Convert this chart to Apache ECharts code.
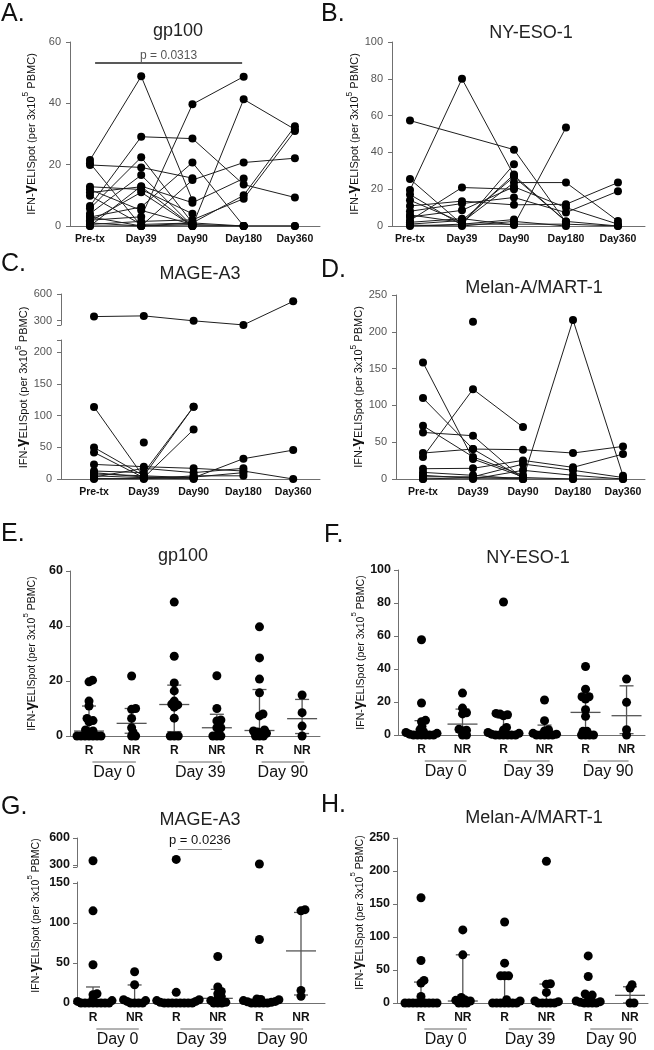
<!DOCTYPE html>
<html><head><meta charset="utf-8">
<script src="https://cdn.jsdelivr.net/npm/echarts@6/dist/echarts.min.js"></script>
<style>html,body{margin:0;padding:0;background:#fff}#c{width:654px;height:1050px}</style>
</head><body><div id="c"></div>
<script>
// ---------------- DATA ----------------
const timepoints = ['Pre-tx', 'Day39', 'Day90', 'Day180', 'Day360'];
const groupCats = ['R', 'NR', 'R', 'NR', 'R', 'NR'];
const dayLabels = ['Day 0', 'Day 39', 'Day 90'];

// A. gp100 per-patient trajectories (Pre-tx, Day39, Day90, Day180, Day360)
const gp100Lines = [
  [21.5, 48.8, 8.4, null, null],
  [19.9, 19.1, 15.6, null, null],
  [20.5, 0, 0.5, null, null],
  [12.8, 11.9, 4, null, null],
  [11.9, 5.1, 0.5, 0, 0],
  [10.9, 12.8, 0, null, null],
  [9.9, 0.5, 1, null, null],
  [6.5, 29.1, 28.5, 13.5, 9.3],
  [5.7, 22.4, 1, 10, 32.5],
  [4, 16.6, 0, 41.3, 31.5],
  [2.9, 6.2, 20.7, 0, null],
  [1.9, 3, 39.7, 48.7, null],
  [1, 0, 15, 20.7, 22.1],
  [0.5, 1.5, 2, 8.9, 31],
  [0, 13, 7.6, 15.5, null],
  [0, 0, 0, 0, 0],
  [1.5, 11, 0, 0, null],
  [3, 0, 1, 0, null]
];
// B. NY-ESO-1
const nyeso1Lines = [
  [57.3, null, 41.5, 2, null],
  [19.5, 80, 27.5, 2.5, null],
  [25.5, 1, 3.5, null, null],
  [17.1, 0.5, 33.6, null, null],
  [14, 2, 23.6, 23.6, 2.7],
  [10.9, 13.5, 11.5, 11.8, 23.6],
  [8, 12.2, 15.5, 7.3, 18.9],
  [4.9, 8.5, 21.3, 10, 1],
  [3, 20.9, 20, null, null],
  [2, 4, 0.5, 53.5, null],
  [1, 3, 26.7, 2.5, 0],
  [0, 1, 1, 1, 0],
  [0.5, 0, 2.5, 0, null],
  [6, 2, 28, null, null]
];
// C. MAGE-A3 (lower segment) and the one high responder (upper segment)
const mageLines = [
  [113.6, 3, 1, null, null],
  [49.7, 5, 2, null, null],
  [41.9, 2, 0, null, null],
  [23, 19.4, 16.8, 12.6, 0],
  [12.6, 10, 114, null, null],
  [7.9, 5, 114, null, null],
  [5, 2, 78, null, null],
  [3, 16.8, 10, 16.8, null],
  [0, 1, 2, 32, 45.5],
  [null, 57.6, null, null, null],
  [1, 0, 5, 5, null],
  [10, 3, 3, 10, null]
];
const mageHighLine = [345, 353, 297, 251, 517];
// D. Melan-A/MART-1
const melanLines = [
  [158.2, 27.1, 3, null, null],
  [109.9, 40.7, 1, null, null],
  [72.3, 30, 5, null, null],
  [63.3, 58.8, 0, null, null],
  [30, 122, 70.5, null, null],
  [35.3, 40.7, 39.8, 35.3, 44.3],
  [null, 213.8, null, null, null],
  [14, 14.5, 25.3, 15.8, 33.9],
  [9, 5, 0, 216, 4.5],
  [3, 3, 20.3, 11.8, 2],
  [0, 0, 11.8, 5, 0],
  [5, 1, 2, 0, null],
  [0, 2, 0, 0, 0]
];

// E-H: groups in order Day0 R, Day0 NR, Day39 R, Day39 NR, Day90 R, Day90 NR
const gp100Groups = [
  [20.3, 19.7, 12.7, 10.9, 6.4, 5.6, 5.2, 2.2, 1.8, 1.5, 0, 0, 0, 0, 0, 0, 0],
  [21.8, 10, 9.7, 6.4, 3, 1.3, 0, 0],
  [48.7, 29, 19.3, 16.4, 12.7, 11.6, 11.3, 10.5, 6.5, 0, 0, 0],
  [21.9, 10, 5.8, 5.5, 3, 3, 1.2, 0, 0, 0],
  [39.7, 28.4, 20.7, 15.7, 8, 7.3, 2.2, 1.8, 1.5, 1.2, 1, 0, 0, 0],
  [14.9, 8.5, 3.6, 0]
];
const gp100Median = [1.8, 4.6, 11.45, 3, 2, 6.3];
const gp100Q1 = [0, 1, 1.6, 0, 0.5, 0.9];
const gp100Q3 = [10.9, 10, 18.5, 7.9, 16.9, 13.3];

const nyesoGroups = [
  [57.7, 19.4, 8.9, 8.1, 5.2, 3.2, 2, 1.5, 1, 0.5, 0, 0, 0, 0, 0, 0],
  [25.4, 16.3, 13.5, 12.8, 3.5, 2.9, 2.6, 0, 0],
  [80.6, 13.1, 12.7, 12.3, 11.7, 4.6, 3, 1.5, 1, 0.5, 0, 0, 0, 0, 0, 0],
  [21.2, 8.7, 3.2, 2.4, 1, 0.5, 0, 0, 0, 0, 0],
  [41.5, 27.8, 23.2, 23.2, 21.8, 15.3, 11.3, 2.2, 2.2, 0, 0, 0, 0],
  [33.9, 19.8, 3.2, 0]
];
const nyesoMedian = [1.6, 6.6, 1.6, 0.6, 13.7, 11.7];
const nyesoQ1 = [0, 1.6, 0, 0, 1.2, 0.8];
const nyesoQ3 = [8.7, 15.7, 10.3, 6, 24.8, 29.8];

const mageGroups = [
  [347, 115, 47.7, 11.6, 10.4, 5, 3, 2, 0, 0, 0, 0, 0, 0, 0, 0],
  [39, 22.8, 4, 3, 2, 0, 0, 0, 0],
  [362, 13.3, 4, 3, 2, 1, 0, 0, 0, 0, 0, 0, 0, 0],
  [58, 19.9, 14.5, 11.6, 8, 5.8, 3, 1, 0, 0, 0],
  [311, 79.2, 5, 4.5, 4, 3, 2, 1.5, 1, 0, 0, 0, 0, 0],
  [116.5, 115, 15.7, 8.3]
];
const mageMedian = [0.5, 2.5, 1, 5.8, 1, 65];
const mageQ1 = [0, 0, 0, 0, 0, 10];
const mageQ3 = [20, 22.5, 3, 17, 3, 113];

const melanGroups = [
  [159.5, 64.4, 34.2, 30.2, 10, 0, 0, 0, 0, 0, 0, 0, 0, 0],
  [110.7, 73, 8.5, 5, 4, 3, 0, 0, 0],
  [122.7, 60.4, 41.2, 41.2, 41.2, 5, 3, 0, 0, 0, 0, 0, 0, 0],
  [214.8, 29.2, 28.5, 16, 3, 2, 0, 0, 0, 0, 0],
  [71.4, 40.2, 13.6, 12, 10, 5, 3, 2, 1, 0, 0, 0, 0],
  [27.7, 22.6, 0, 0]
];
const melanMedian = [0, 3, 0.5, 3, 2, 11.6];
const melanQ1 = [0, 0, 0, 0, 0, 0];
const melanQ3 = [31.7, 73, 36.2, 28.7, 13.6, 24.6];

const pValueA = 'p = 0.0313';
const pValueG = 'p = 0.0236';

// ---------------- LAYOUT ----------------
const FONT = '"Liberation Sans", Arial, Helvetica, sans-serif';
const layout = [
  {left: 70,  top: 42,  width: 250, height: 184, x: [-0.39, 4.49],   y: [0, 60],   yint: 20, kind: 'time'},   // 0 A
  {left: 392, top: 42,  width: 253, height: 184, x: [-0.346, 4.52],  y: [0, 100],  yint: 20, kind: 'time'},   // 1 B
  {left: 61,  top: 294, width: 259, height: 31,  x: [-0.663, 4.538], y: [250, 600], lab: [300, 600], tick: [250, 300, 600], kind: 'up'}, // 2 C up
  {left: 61,  top: 340, width: 259, height: 139, x: [-0.663, 4.538], y: [0, 219],  lab: [0, 50, 100, 150, 200], tick: [0, 50, 100, 150, 200, 219], kind: 'time'}, // 3 C low
  {left: 396, top: 295, width: 249, height: 184, x: [-0.54, 4.44],   y: [0, 250],  yint: 50, kind: 'time'},   // 4 D
  {left: 70,  top: 571, width: 250, height: 165, x: [-0.446, 5.42],  y: [0, 60],   yint: 20, kind: 'grp'},    // 5 E
  {left: 398, top: 570, width: 247, height: 165, x: [-0.573, 5.45],  y: [0, 100],  yint: 20, kind: 'grp'},    // 6 F
  {left: 77,  top: 838, width: 248, height: 29,  x: [-0.385, 5.577], y: [278, 600], lab: [300, 600], tick: [278, 300, 600], kind: 'up'}, // 7 G up
  {left: 77,  top: 882, width: 248, height: 121, x: [-0.385, 5.577], y: [0, 151],  lab: [0, 50, 100, 150], tick: [0, 50, 100, 150], kind: 'grp'}, // 8 G low
  {left: 397, top: 838, width: 251, height: 165, x: [-0.574, 5.43],  y: [0, 250],  yint: 50, kind: 'grp'}     // 9 H
];
const axisNames = [
  {grid: 0, gap: 33, size: 11, shift: 0},
  {grid: 1, gap: 27, size: 11, shift: 0},
  {grid: 3, gap: 23, size: 11, shift: 22},
  {grid: 4, gap: 24, size: 11, shift: 0},
  {grid: 5, gap: 32, size: 10.5, shift: 0},
  {grid: 6, gap: 28, size: 10.5, shift: 0},
  {grid: 8, gap: 35, size: 10.5, shift: 27},
  {grid: 9, gap: 29, size: 10.5, shift: 8}
];
// title text tops (px)
const titles = [
  {t: 'gp100', x: 178, y: 22}, {t: 'NY-ESO-1', x: 531, y: 24},
  {t: 'MAGE-A3', x: 200, y: 265}, {t: 'Melan-A/MART-1', x: 534, y: 279},
  {t: 'gp100', x: 183, y: 547}, {t: 'NY-ESO-1', x: 528, y: 549},
  {t: 'MAGE-A3', x: 200, y: 811}, {t: 'Melan-A/MART-1', x: 534, y: 809}
];
const letters = [
  {t: 'A.', x: 1, y: 2}, {t: 'B.', x: 321, y: 2}, {t: 'C.', x: 1, y: 252}, {t: 'D.', x: 321, y: 258},
  {t: 'E.', x: 1, y: 522}, {t: 'F.', x: 324, y: 523}, {t: 'G.', x: 1, y: 795}, {t: 'H.', x: 321, y: 793}
];
const daySpans = [[0.08, 1.1], [2.1, 3.12], [4.05, 5.05]];

// ---------------- BUILD ----------------
const AX = '#707070';
const yName = '{a|IFN-}{g|γ}{a|ELISpot (per 3x10}{s|5}{a| PBMC)}';

const grids = layout.map(L => ({left: L.left, top: L.top, width: L.width, height: L.height, containLabel: false}));
const xAxes = layout.map((L, i) => {
  const cats = L.kind === 'grp' ? groupCats : timepoints;
  return {
    gridIndex: i, type: 'value', min: L.x[0], max: L.x[1], show: L.kind !== 'up',
    axisLine: {show: true, onZero: false, lineStyle: {color: AX, width: 1}},
    axisTick: {show: false}, splitLine: {show: false},
    axisLabel: {
      customValues: cats.map((_, k) => k),
      formatter: v => cats[Math.round(v)],
      color: '#111', fontFamily: FONT, fontWeight: 'bold',
      fontSize: L.kind === 'grp' ? 12 : 10.5, margin: L.kind === 'grp' ? 9 : 8
    }
  };
});
const yAxes = layout.map((L, i) => {
  const grp = L.kind === 'grp' || i === 7;
  const ax = {
    gridIndex: i, type: 'value', min: L.y[0], max: L.y[1],
    axisLine: {show: true, onZero: false, lineStyle: {color: AX, width: 1}},
    axisTick: {show: true, length: 4, lineStyle: {color: AX}},
    splitLine: {show: false},
    axisLabel: {color: grp ? '#111' : '#555', fontFamily: FONT, fontWeight: grp ? 'bold' : 'normal',
      fontSize: grp ? 12.5 : 11, margin: grp ? 7 : 9}
  };
  if (L.yint) ax.interval = L.yint;
  if (L.lab) { ax.axisLabel.customValues = L.lab; ax.axisTick.customValues = L.tick; }
  const nm = axisNames.find(n => n.grid === i);
  if (nm) {
    ax.name = yName; ax.nameLocation = 'middle'; ax.nameGap = nm.gap; ax.nameRotate = 90;
    const s = nm.size;
    ax.nameTextStyle = {
      fontFamily: FONT, color: '#111', padding: [0, 0, 0, nm.shift * 2],
      rich: {
        a: {fontSize: s, fontFamily: FONT, color: '#111', lineHeight: 16, verticalAlign: 'bottom'},
        g: {fontSize: s + 4, fontFamily: FONT, fontWeight: 'bold', color: '#111', lineHeight: 16, verticalAlign: 'bottom'},
        s: {fontSize: s - 2.5, fontFamily: FONT, color: '#111', lineHeight: 16, verticalAlign: 'top'}
      }
    };
  }
  return ax;
});

const series = [];
function addLines(grid, rows, markLine) {
  rows.forEach((row, r) => {
    const data = [];
    row.forEach((v, k) => { if (v !== null) data.push([k, v]); });
    const s = {
      type: 'line', xAxisIndex: grid, yAxisIndex: grid, data,
      symbol: 'circle', symbolSize: 8, showSymbol: true,
      itemStyle: {color: '#000', opacity: 1}, lineStyle: {color: '#1e1e1e', width: 1},
      silent: true, z: 2, animation: false
    };
    if (r === 0 && markLine) s.markLine = markLine;
    series.push(s);
  });
}
addLines(0, gp100Lines, {
  symbol: 'none', silent: true, animation: false,
  lineStyle: {color: '#222', width: 1.5, type: 'solid'},
  label: {show: true, position: 'middle', formatter: pValueA, color: '#555', fontSize: 12, fontFamily: FONT, distance: 1},
  data: [[{coord: [0.1, 53.2]}, {coord: [2.97, 53.2]}]]
});
addLines(1, nyeso1Lines);
addLines(3, mageLines);
addLines(2, [mageHighLine]);
addLines(4, melanLines);

function swarm(vals, ppu) {
  const order = vals.map((v, i) => i).sort((a, b) => vals[a] - vals[b]);
  const placed = []; const out = new Array(vals.length);
  const minD = 3.8;
  for (const i of order) {
    const y = vals[i] * ppu;
    let dx = 0;
    for (let s = 0; s < 400; s++) {
      const cands = s === 0 ? [0] : [s * 0.5, -s * 0.5];
      let found = null;
      for (const c of cands) {
        if (placed.every(p => Math.hypot(p.x - c, p.y - y) >= minD)) { found = c; break; }
      }
      if (found !== null) { dx = found; break; }
    }
    placed.push({x: dx, y}); out[i] = dx;
  }
  return out;
}
function barRender(params, api) {
  const x = api.value(0);
  const pm = api.coord([x, api.value(1)]);
  const p1 = api.coord([x, api.value(2)]);
  const p3 = api.coord([x, api.value(3)]);
  const st = {stroke: '#555', lineWidth: 1.3};
  return {type: 'group', children: [
    {type: 'line', shape: {x1: p1[0], y1: p1[1], x2: p3[0], y2: p3[1]}, style: st},
    {type: 'line', shape: {x1: pm[0] - 15, y1: pm[1], x2: pm[0] + 15, y2: pm[1]}, style: st},
    {type: 'line', shape: {x1: p1[0] - 7, y1: p1[1], x2: p1[0] + 7, y2: p1[1]}, style: st},
    {type: 'line', shape: {x1: p3[0] - 7, y1: p3[1], x2: p3[0] + 7, y2: p3[1]}, style: st}
  ]};
}
function addGroups(low, up, groups, med, q1, q3, markLine) {
  const L = layout[low];
  const ppu = L.height / (L.y[1] - L.y[0]);
  const lowData = [], upData = [];
  groups.forEach((vals, k) => {
    const lv = vals.filter(v => v <= L.y[1]);
    const offs = swarm(lv, ppu);
    lv.forEach((v, i) => lowData.push({value: [k, v], symbolOffset: [offs[i], 0]}));
    vals.filter(v => v > L.y[1]).forEach(v => upData.push({value: [k, v]}));
  });
  series.push({type: 'custom', xAxisIndex: low, yAxisIndex: low, renderItem: barRender,
    data: med.map((m, k) => [k, m, q1[k], q3[k]]), encode: {x: 0, y: [1, 2, 3]}, z: 1, silent: true, animation: false});
  series.push({type: 'scatter', xAxisIndex: low, yAxisIndex: low, data: lowData, symbol: 'circle', symbolSize: 9,
    itemStyle: {color: '#000', opacity: 1}, z: 3, silent: true, animation: false});
  if (up !== null) {
    const s = {type: 'scatter', xAxisIndex: up, yAxisIndex: up, data: upData, symbol: 'circle', symbolSize: 9,
      itemStyle: {color: '#000', opacity: 1}, z: 3, silent: true, animation: false};
    if (markLine) s.markLine = markLine;
    series.push(s);
  }
}
addGroups(5, null, gp100Groups, gp100Median, gp100Q1, gp100Q3);
addGroups(6, null, nyesoGroups, nyesoMedian, nyesoQ1, nyesoQ3);
addGroups(8, 7, mageGroups, mageMedian, mageQ1, mageQ3, {
  symbol: 'none', silent: true, animation: false,
  lineStyle: {color: '#888', width: 1.2, type: 'solid'},
  label: {show: true, position: 'middle', formatter: pValueG, color: '#111', fontSize: 13, fontFamily: FONT, distance: 2},
  data: [[{coord: [2.04, 478]}, {coord: [3.1, 478]}]]
});
addGroups(9, null, melanGroups, melanMedian, melanQ1, melanQ3);

// graphics: titles, panel letters, day group labels
const graphic = [];
titles.forEach(t => graphic.push({type: 'text', x: t.x, y: t.y, silent: true,
  style: {text: t.t, fontSize: 18, fontFamily: FONT, fill: '#222', align: 'center', verticalAlign: 'top'}}));
letters.forEach(t => graphic.push({type: 'text', x: t.x, y: t.y, silent: true,
  style: {text: t.t, fontSize: 25, fontFamily: FONT, fill: '#111', align: 'left', verticalAlign: 'top'}}));
[5, 6, 8, 9].forEach(g => {
  const L = layout[g];
  const px = v => L.left + (v - L.x[0]) / (L.x[1] - L.x[0]) * L.width;
  const bottom = L.top + L.height;
  daySpans.forEach((sp, k) => {
    const x1 = px(sp[0]), x2 = px(sp[1]);
    graphic.push({type: 'line', silent: true, shape: {x1, y1: bottom + 26, x2, y2: bottom + 26}, style: {stroke: '#666', lineWidth: 1}});
    graphic.push({type: 'text', silent: true, x: (x1 + x2) / 2, y: bottom + 37,
      style: {text: dayLabels[k], fontSize: 16, fontFamily: FONT, fill: '#111', align: 'center', verticalAlign: 'middle'}});
  });
});

const chart = echarts.init(document.getElementById('c'), null, {renderer: 'canvas', width: 654, height: 1050});
chart.setOption({
  animation: false, backgroundColor: '#fff',
  grid: grids, xAxis: xAxes, yAxis: yAxes, series, graphic
});
</script>
</body></html>
